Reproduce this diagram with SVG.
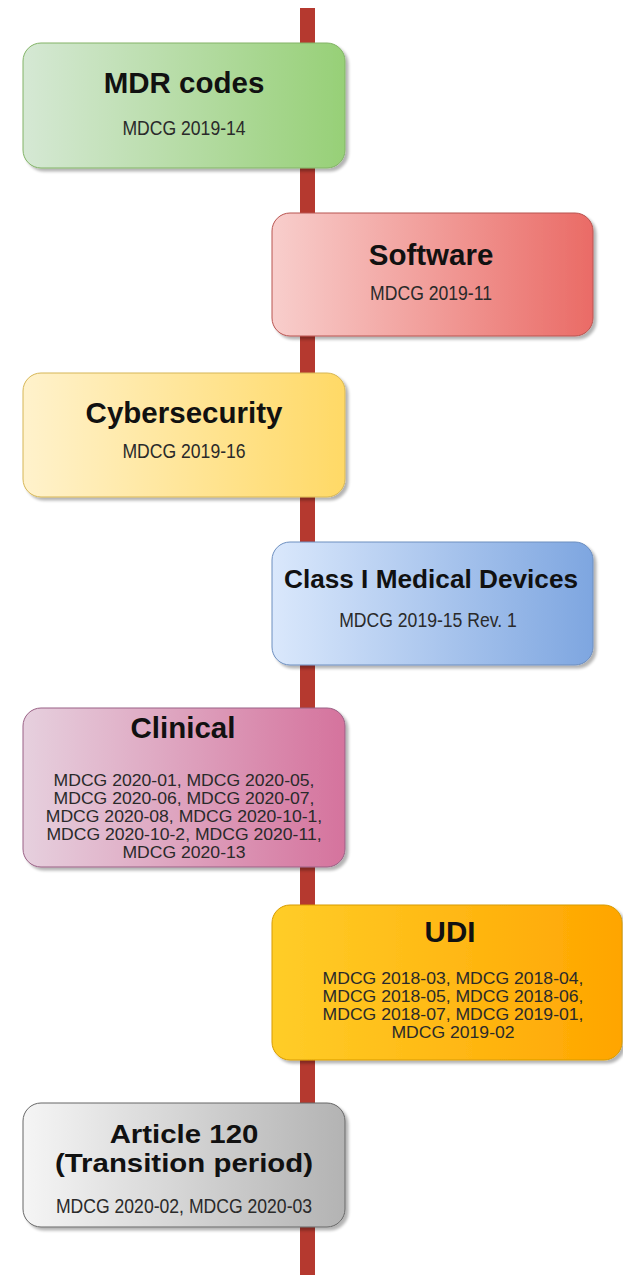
<svg xmlns="http://www.w3.org/2000/svg" width="623" height="1275" viewBox="0 0 623 1275">
<defs>
<linearGradient id="gGreen" x1="0" y1="0" x2="1" y2="0"><stop offset="0" stop-color="#d5e8d4"/><stop offset="1" stop-color="#97d077"/></linearGradient>
<linearGradient id="gRed" x1="0" y1="0" x2="1" y2="0"><stop offset="0" stop-color="#f8cecc"/><stop offset="1" stop-color="#ea6b66"/></linearGradient>
<linearGradient id="gYellow" x1="0" y1="0" x2="1" y2="0"><stop offset="0" stop-color="#fff2cc"/><stop offset="1" stop-color="#ffd966"/></linearGradient>
<linearGradient id="gBlue" x1="0" y1="0" x2="1" y2="0"><stop offset="0" stop-color="#dae8fc"/><stop offset="1" stop-color="#7ea6e0"/></linearGradient>
<linearGradient id="gPink" x1="0" y1="0" x2="1" y2="0"><stop offset="0" stop-color="#e6d0de"/><stop offset="1" stop-color="#d5739d"/></linearGradient>
<linearGradient id="gOrange" x1="0" y1="0" x2="1" y2="0"><stop offset="0" stop-color="#ffcd28"/><stop offset="1" stop-color="#ffa500"/></linearGradient>
<linearGradient id="gGray" x1="0" y1="0" x2="1" y2="0"><stop offset="0" stop-color="#f5f5f5"/><stop offset="1" stop-color="#b3b3b3"/></linearGradient>
<filter id="shadow" x="-10%" y="-10%" width="125%" height="130%">
<feGaussianBlur in="SourceAlpha" stdDeviation="1.5"/>
<feOffset dx="3" dy="3" result="o"/>
<feComponentTransfer><feFuncA type="linear" slope="0.3"/></feComponentTransfer>
<feMerge><feMergeNode/><feMergeNode in="SourceGraphic"/></feMerge>
</filter>
</defs>
<style>
.box{stroke-width:1;filter:url(#shadow)}
.t{font-family:"Liberation Sans",Arial,sans-serif;font-weight:bold;font-size:29.5px;fill:#111;text-anchor:middle}
.t2{font-family:"Liberation Sans",Arial,sans-serif;font-weight:bold;font-size:25.8px;fill:#111;text-anchor:middle}
.s{font-family:"Liberation Sans",Arial,sans-serif;font-size:17.6px;fill:#2a2a2a;text-anchor:middle}
.m{font-family:"Liberation Sans",Arial,sans-serif;font-size:16px;fill:#2a2a2a;text-anchor:middle}
</style>
<rect width="623" height="1275" fill="#ffffff"/>
<g id="connectors">
<rect x="300" y="8" width="15" height="1267" fill="#b5392f"/>
</g>
<g id="mdr-codes">
<rect class="box" x="23" y="43" width="322" height="125" rx="18" fill="url(#gGreen)" stroke="#82b366"/>
<text class="t" x="184" y="92.5">MDR codes</text>
<text class="s" transform="translate(184,135) scale(1,1.15)">MDCG 2019-14</text>
</g>
<g id="software">
<rect class="box" x="272" y="213" width="321" height="123" rx="18" fill="url(#gRed)" stroke="#b85450"/>
<text class="t" x="431" y="265">Software</text>
<text class="s" transform="translate(431,300) scale(1,1.15)">MDCG 2019-11</text>
</g>
<g id="cybersecurity">
<rect class="box" x="23" y="373" width="322" height="124" rx="18" fill="url(#gYellow)" stroke="#d6b656"/>
<text class="t" x="184" y="423">Cybersecurity</text>
<text class="s" transform="translate(184,458) scale(1,1.15)">MDCG 2019-16</text>
</g>
<g id="class-i">
<rect class="box" x="272" y="542" width="321" height="123" rx="18" fill="url(#gBlue)" stroke="#6c8ebf"/>
<text class="t" x="431" y="588" style="font-size:26.2px">Class I Medical Devices</text>
<text class="s" transform="translate(428,627) scale(1,1.15)">MDCG 2019-15 Rev. 1</text>
</g>
<g id="clinical">
<rect class="box" x="23" y="708" width="322" height="159" rx="18" fill="url(#gPink)" stroke="#996185"/>
<text class="t" x="183" y="738">Clinical</text>
<g transform="translate(184,0) scale(1.1,1)">
<text class="m" x="0" y="786.5">MDCG 2020-01, MDCG 2020-05,</text>
<text class="m" x="0" y="804.4">MDCG 2020-06, MDCG 2020-07,</text>
<text class="m" x="0" y="822.3">MDCG 2020-08, MDCG 2020-10-1,</text>
<text class="m" x="0" y="840.2">MDCG 2020-10-2, MDCG 2020-11,</text>
<text class="m" x="0" y="858.1">MDCG 2020-13</text>
</g>
</g>
<g id="udi">
<rect class="box" x="272" y="905" width="350" height="155" rx="18" fill="url(#gOrange)" stroke="#d79b00"/>
<text class="t" x="450" y="942">UDI</text>
<g transform="translate(453,0) scale(1.1,1)">
<text class="m" x="0" y="984.5">MDCG 2018-03, MDCG 2018-04,</text>
<text class="m" x="0" y="1002.4">MDCG 2018-05, MDCG 2018-06,</text>
<text class="m" x="0" y="1020.3">MDCG 2018-07, MDCG 2019-01,</text>
<text class="m" x="0" y="1038.2">MDCG 2019-02</text>
</g>
</g>
<g id="article-120">
<rect class="box" x="23" y="1103" width="322" height="124" rx="18" fill="url(#gGray)" stroke="#666666"/>
<g transform="translate(184,0) scale(1.14,1)">
<text class="t2" x="0" y="1143">Article 120</text>
<text class="t2" x="0" y="1172.3">(Transition period)</text>
</g>
<text class="s" transform="translate(184,1213) scale(1,1.15)">MDCG 2020-02, MDCG 2020-03</text>
</g>
</svg>
